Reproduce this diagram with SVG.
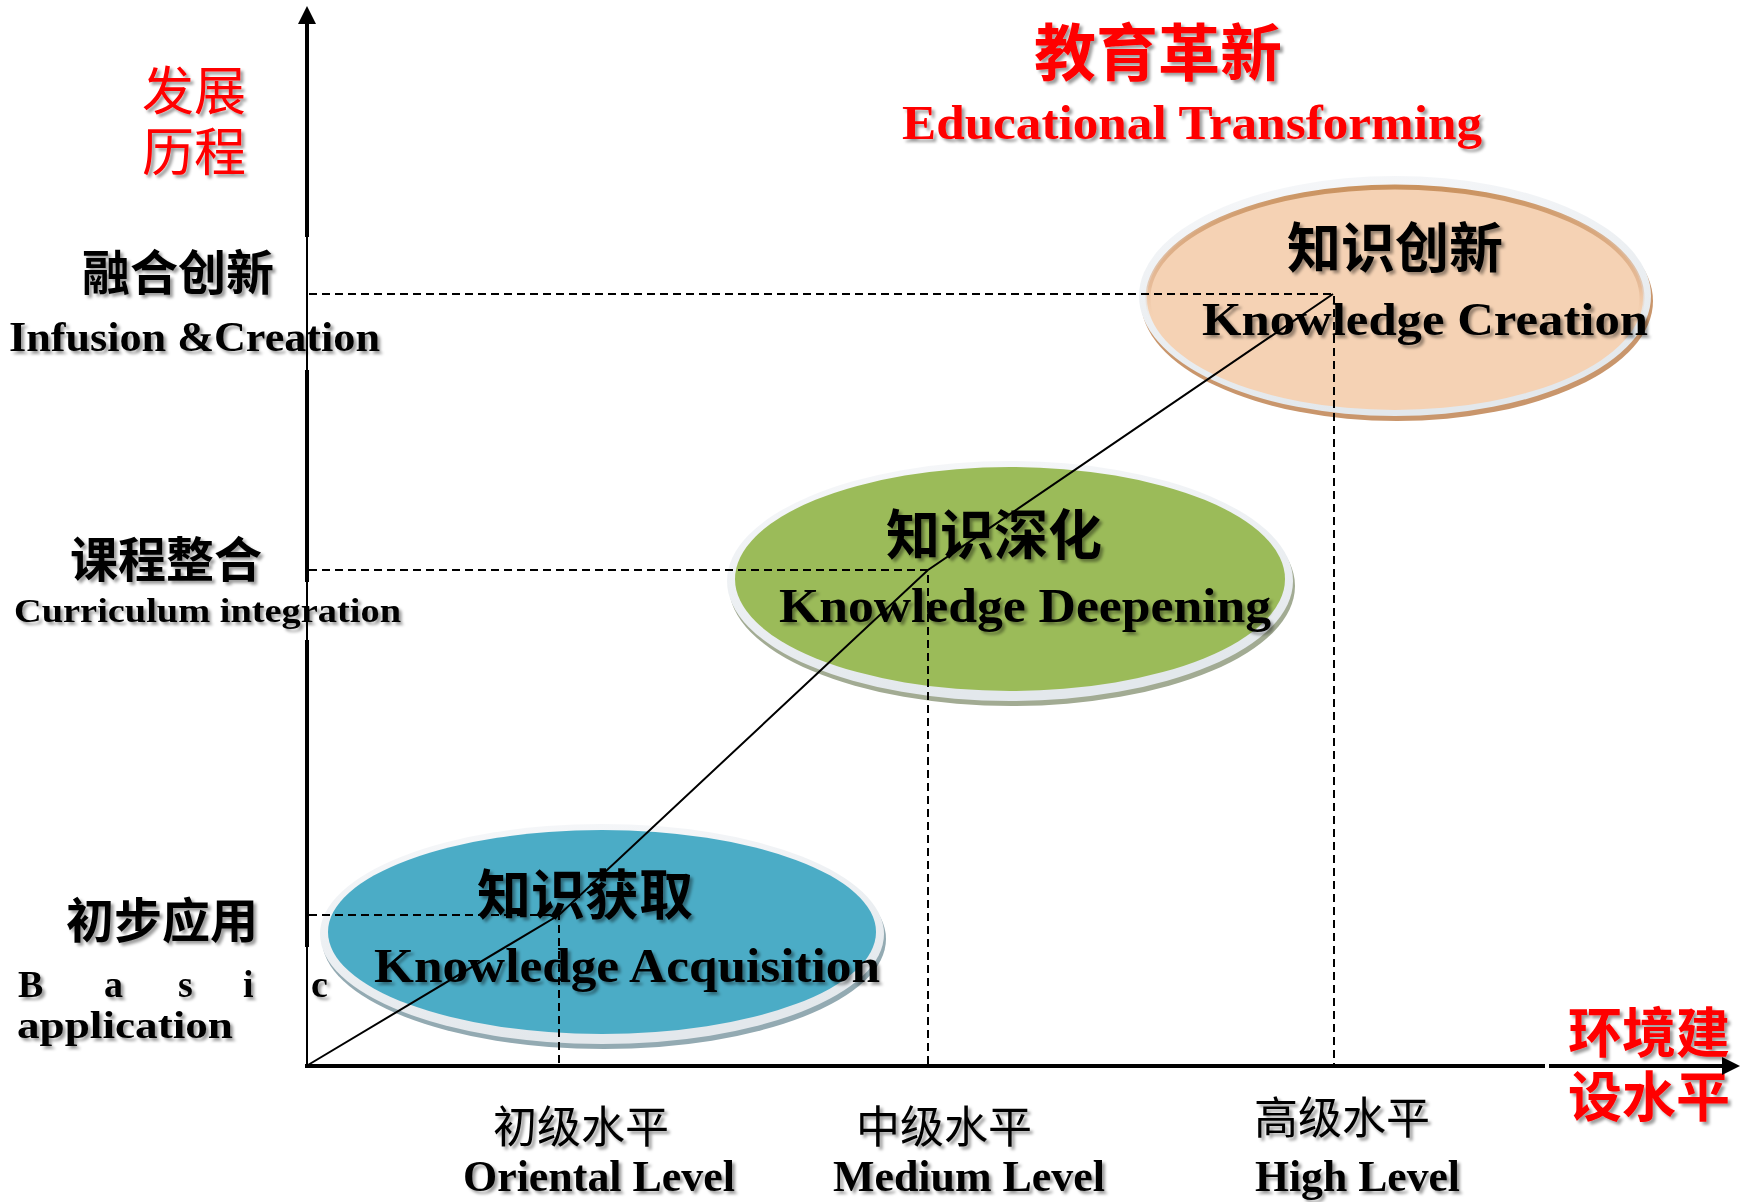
<svg xmlns="http://www.w3.org/2000/svg" width="1741" height="1202" viewBox="0 0 1741 1202">
<style>
.cjk{font-family:'Noto Sans CJK SC','Noto Sans',sans-serif;filter:url(#ts)}
.b{font-weight:700}
.r{font-weight:400}
.en{font-family:'Liberation Serif','DejaVu Serif',serif;font-weight:700;filter:url(#ts)}
.blk{fill:#000}
.red{fill:#FF0000}
.axis{stroke:#000;stroke-width:4;fill:none}
.axthin{stroke:#000;stroke-width:2;fill:none}
.dash{stroke:#000;stroke-width:2;stroke-dasharray:8 5;fill:none}
.diag{stroke:#000;stroke-width:2;fill:none}
.rim{fill:url(#rimg)}
</style>
<defs>
<filter id="ts" x="-10%" y="-30%" width="120%" height="160%">
<feDropShadow dx="3" dy="3" stdDeviation="1.8" flood-color="#000" flood-opacity="0.38"/>
</filter>
<linearGradient id="rimg" x1="0" y1="0" x2="0.3" y2="1">
<stop offset="0" stop-color="#f7f8fa"/>
<stop offset="1" stop-color="#e3e8ec"/>
</linearGradient>
<linearGradient id="edgeO" x1="0" y1="0" x2="0" y2="1">
<stop offset="0" stop-color="#C9925F"/>
<stop offset="0.45" stop-color="#D9A67E" stop-opacity="0.5"/>
<stop offset="0.6" stop-color="#F5D2B4" stop-opacity="0"/>
</linearGradient>
<marker id="arr" viewBox="0 0 10 10" refX="0" refY="5" markerWidth="4.5" markerHeight="4.5" orient="auto" markerUnits="strokeWidth">
<path d="M0,0 L10,5 L0,10 Z" fill="#000"/>
</marker>
</defs>
<rect width="1741" height="1202" fill="#fff"/>

<g id="node-acquisition">
<ellipse cx="604" cy="939" rx="282" ry="110" fill="#93AAB2"/>
<ellipse cx="602" cy="934" rx="282" ry="110" class="rim"/>
<ellipse cx="602" cy="932" rx="274" ry="102" fill="#4BACC6"/>
<text class="cjk b blk" x="585" y="915" font-size="54" text-anchor="middle">知识获取</text>
<text class="en blk" x="374" y="982" font-size="48" textLength="506" lengthAdjust="spacingAndGlyphs">Knowledge Acquisition</text>
</g>

<g id="node-deepening">
<ellipse cx="1012" cy="586" rx="283" ry="120" fill="#A2AB93"/>
<ellipse cx="1010" cy="581" rx="283" ry="120" class="rim"/>
<ellipse cx="1010" cy="579" rx="275" ry="112" fill="#9BBB59"/>
<text class="cjk b blk" x="994" y="555" font-size="54" text-anchor="middle">知识深化</text>
<text class="en blk" x="779" y="622" font-size="48" textLength="492" lengthAdjust="spacingAndGlyphs">Knowledge Deepening</text>
</g>

<g id="node-creation">
<ellipse cx="1397" cy="301" rx="256" ry="120" fill="#C9966C"/>
<ellipse cx="1395" cy="296" rx="256" ry="120" class="rim"/>
<ellipse cx="1395" cy="298" rx="248" ry="112" fill="#F5D2B4"/>
<ellipse cx="1395" cy="298" rx="247" ry="111" fill="none" stroke="url(#edgeO)" stroke-width="5"/>
<text class="cjk b blk" x="1395" y="268" font-size="54" text-anchor="middle">知识创新</text>
<text class="en blk" x="1202" y="335" font-size="46" textLength="446" lengthAdjust="spacingAndGlyphs">Knowledge Creation</text>
</g>

<g id="title">
<text class="cjk b red" x="1158" y="76" font-size="62" text-anchor="middle">教育革新</text>
<text class="en red" x="902" y="139" font-size="48" textLength="580" lengthAdjust="spacingAndGlyphs">Educational Transforming</text>
</g>

<g id="y-axis-title">
<text class="cjk r red" x="194" y="110" font-size="52" text-anchor="middle">发展</text>
<text class="cjk r red" x="194" y="171" font-size="52" text-anchor="middle">历程</text>
</g>

<g id="x-axis-title">
<text class="cjk b red" x="1649" y="1053" font-size="54" text-anchor="middle">环境建</text>
<text class="cjk b red" x="1649" y="1117" font-size="54" text-anchor="middle">设水平</text>
</g>

<g id="level-infusion">
<text class="cjk b blk" x="178" y="290" font-size="48" text-anchor="middle">融合创新</text>
<text class="en blk" x="9" y="351" font-size="42" textLength="371" lengthAdjust="spacingAndGlyphs">Infusion &amp;Creation</text>
</g>

<g id="level-curriculum">
<text class="cjk b blk" x="166" y="577" font-size="48" text-anchor="middle">课程整合</text>
<text class="en blk" x="14" y="622" font-size="34" textLength="387" lengthAdjust="spacingAndGlyphs">Curriculum integration</text>
</g>

<g id="level-basic">
<text class="cjk b blk" x="162" y="938" font-size="48" text-anchor="middle">初步应用</text>
<text class="en blk" y="997" font-size="38"><tspan x="18">B</tspan><tspan x="104">a</tspan><tspan x="178">s</tspan><tspan x="243">i</tspan><tspan x="311">c</tspan></text>
<text class="en blk" x="17" y="1038" font-size="38" textLength="216" lengthAdjust="spacingAndGlyphs">application</text>
</g>

<g id="env-oriental">
<text class="cjk r blk" x="581" y="1143" font-size="44" text-anchor="middle">初级水平</text>
<text class="en blk" x="463" y="1191" font-size="44" textLength="272" lengthAdjust="spacingAndGlyphs">Oriental Level</text>
</g>
<g id="env-medium">
<text class="cjk r blk" x="944" y="1143" font-size="44" text-anchor="middle">中级水平</text>
<text class="en blk" x="833" y="1191" font-size="44" textLength="272" lengthAdjust="spacingAndGlyphs">Medium Level</text>
</g>
<g id="env-high">
<text class="cjk r blk" x="1342" y="1134" font-size="44" text-anchor="middle">高级水平</text>
<text class="en blk" x="1255" y="1191" font-size="44" textLength="205" lengthAdjust="spacingAndGlyphs">High Level</text>
</g>

<g id="connectors">
<line class="axis" x1="307" y1="237" x2="307" y2="24" marker-end="url(#arr)"/>
<line class="axthin" x1="307" y1="237" x2="307" y2="370"/>
<line class="axis" x1="307" y1="370" x2="307" y2="582"/>
<line class="axthin" x1="307" y1="582" x2="307" y2="640"/>
<line class="axis" x1="307" y1="640" x2="307" y2="947"/>
<line class="axthin" x1="307" y1="947" x2="307" y2="1066"/>
<line class="axis" x1="305" y1="1066" x2="1545" y2="1066"/>
<line class="axis" x1="1549" y1="1066" x2="1722" y2="1066" marker-end="url(#arr)"/>
<polyline class="diag" points="308,1065 559,915 928,570 1333,294"/>
<polyline class="dash" points="309,915 559,915 559,1064"/>
<polyline class="dash" points="309,570 928,570 928,1064"/>
<polyline class="dash" points="309,294 1334,294 1334,1064"/>
</g>
</svg>
